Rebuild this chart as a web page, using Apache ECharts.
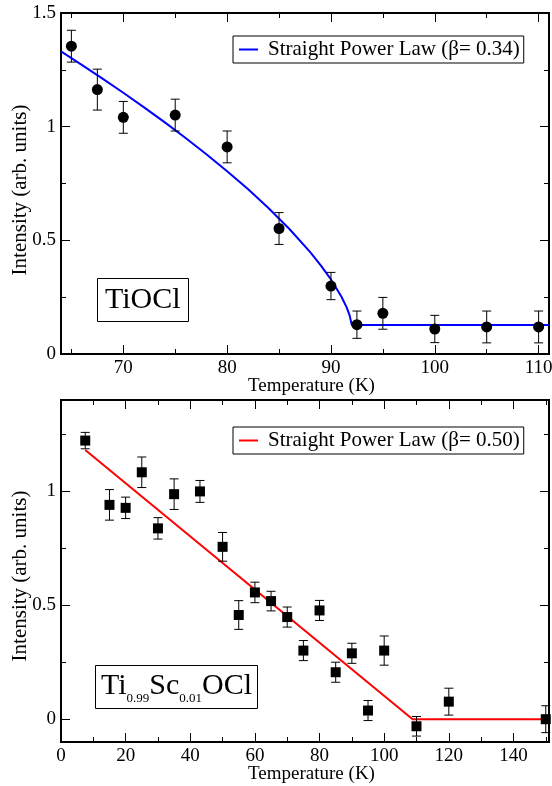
<!DOCTYPE html>
<html>
<head>
<meta charset="utf-8">
<script src="https://cdn.jsdelivr.net/npm/echarts@6/dist/echarts.min.js"></script>
<style>
html,body{margin:0;padding:0;background:#fff;}
#c{width:552px;height:786px;}
</style>
</head>
<body>
<div id="c"></div>
<script>
// ---------- Data: top panel (TiOCl) ----------
const topT   = [65, 67.5, 70, 75, 80, 85, 90, 92.5, 95, 100, 105, 110];
const topI   = [1.354, 1.163, 1.041, 1.051, 0.911, 0.552, 0.299, 0.129, 0.179, 0.110, 0.119, 0.119];
const topErr = [0.07, 0.09, 0.07, 0.07, 0.07, 0.07, 0.06, 0.06, 0.07, 0.06, 0.07, 0.07];
// fit curve
const topFitT = [64, 66, 68, 70, 72, 74, 76, 78, 80, 82, 84, 86, 88, 89, 90, 91, 91.5, 91.8, 92, 111];
const topFitI = [1.331, 1.272, 1.211, 1.149, 1.085, 1.019, 0.950, 0.879, 0.804, 0.726, 0.641, 0.550, 0.448, 0.391, 0.328, 0.253, 0.206, 0.170, 0.128, 0.128];
const topXMajor = [70, 80, 90, 100, 110];
const topXMinor = [65, 75, 85, 95, 105];
const topYMajor = [0, 0.5, 1, 1.5];
const topYMinor = [0.25, 0.75, 1.25];
const topLegend = 'Straight Power Law (β= 0.34)';

// ---------- Data: bottom panel (Ti0.99Sc0.01OCl) ----------
const botT   = [7.5, 15, 20, 25, 30, 35, 43, 50, 55, 60, 65, 70, 75, 80, 85, 90, 95, 100, 110, 120, 150];
const botI   = [1.222, 0.940, 0.927, 1.083, 0.837, 0.987, 0.999, 0.756, 0.457, 0.556, 0.518, 0.448, 0.301, 0.477, 0.206, 0.289, 0.038, 0.301, -0.031, 0.077, 0.0];
const botErr = [0.036, 0.067, 0.047, 0.067, 0.047, 0.067, 0.048, 0.063, 0.063, 0.045, 0.043, 0.044, 0.044, 0.044, 0.044, 0.044, 0.044, 0.064, 0.043, 0.059, 0.059];
const botFitT = [7.5, 108.8, 150];
const botFitI = [1.181, 0.0, 0.0];
const botXMajor = [0, 20, 40, 60, 80, 100, 120, 140];
const botXMinor = [10, 30, 50, 70, 90, 110, 130, 150];
const botYMajor = [0, 0.5, 1];
const botYMinor = [0.25, 0.75, 1.25];
const botLegend = 'Straight Power Law (β= 0.50)';

const xTitle = 'Temperature (K)';
const yTitle = 'Intensity (arb. units)';

// ---------- Chart ----------
const FONT = "'Liberation Serif', 'Times New Roman', serif";
const BLACK = '#000';

function tickAxis(gi, pos, min, max, values, len, withLabels, extra) {
  const a = {
    gridIndex: gi, type: 'value', position: pos, min: min, max: max,
    axisLine: { show: false, onZero: false }, splitLine: { show: false },
    axisTick: { show: true, inside: true, length: len, customValues: values,
                lineStyle: { color: BLACK, width: 1 } },
    axisLabel: { show: false }
  };
  if (withLabels) {
    a.axisLabel = { show: true, customValues: values, color: BLACK,
                    fontFamily: FONT, fontSize: 19, margin: 5,
                    formatter: v => String(v) };
  }
  return Object.assign(a, extra || {});
}

const xAxes = [], yAxes = [];
function buildAxes(gi, xmin, xmax, xMaj, xMin, ymin, ymax, yMaj, yMin, yShift) {
  const xi = xAxes.length, yi = yAxes.length;
  xAxes.push(tickAxis(gi, 'bottom', xmin, xmax, xMaj, 9, true, {
    name: xTitle, nameLocation: 'middle', nameGap: 23, nameMoveOverlap: false,
    nameTextStyle: { color: BLACK, fontFamily: FONT, fontSize: 19, padding: [0, 0, 0, 13] }
  }));
  xAxes.push(tickAxis(gi, 'bottom', xmin, xmax, xMin, 5, false));
  xAxes.push(tickAxis(gi, 'top', xmin, xmax, xMaj, 9, false));
  xAxes.push(tickAxis(gi, 'top', xmin, xmax, xMin, 5, false));
  yAxes.push(tickAxis(gi, 'left', ymin, ymax, yMaj, 9, true, {
    name: yTitle, nameLocation: 'middle', nameGap: 30, nameMoveOverlap: false,
    nameTextStyle: { color: BLACK, fontFamily: FONT, fontSize: 21, padding: [0, yShift, 0, 0] }
  }));
  yAxes.push(tickAxis(gi, 'left', ymin, ymax, yMin, 5, false));
  yAxes.push(tickAxis(gi, 'right', ymin, ymax, yMaj, 9, false));
  yAxes.push(tickAxis(gi, 'right', ymin, ymax, yMin, 5, false));
  return [xi, yi];
}

const [tx, ty] = buildAxes(0, 64, 111, topXMajor, topXMinor, 0, 1.5, topYMajor, topYMinor, 13);
const [bx, by] = buildAxes(1, 0, 151, botXMajor, botXMinor, -0.1, 1.4, botYMajor, botYMinor, 10);

function errData(T, I, E) {
  return T.map((t, i) => [t, I[i] - E[i], I[i] + E[i]]);
}
function errSeries(xi, yi, data) {
  return {
    type: 'custom', xAxisIndex: xi, yAxisIndex: yi, data: data, clip: false,
    encode: { x: 0, y: [1, 2] }, z: 3, silent: true,
    renderItem: function (params, api) {
      const x = api.value(0), lo = api.value(1), hi = api.value(2);
      const p1 = api.coord([x, hi]), p2 = api.coord([x, lo]);
      const w = 4.5, st = { stroke: BLACK, lineWidth: 1 };
      return { type: 'group', children: [
        { type: 'line', shape: { x1: p1[0], y1: p1[1], x2: p2[0], y2: p2[1] }, style: st },
        { type: 'line', shape: { x1: p1[0] - w, y1: p1[1], x2: p1[0] + w, y2: p1[1] }, style: st },
        { type: 'line', shape: { x1: p2[0] - w, y1: p2[1], x2: p2[0] + w, y2: p2[1] }, style: st }
      ]};
    }
  };
}

const legendBase = {
  orient: 'horizontal', icon: 'rect', itemWidth: 19, itemHeight: 2,
  borderColor: BLACK, borderWidth: 1, padding: [3, 4, 3, 6],
  textStyle: { color: BLACK, fontFamily: FONT, fontSize: 21, padding: [0, 0, 0, 5] },
  selectedMode: false
};

const option = {
  animation: false,
  backgroundColor: '#fff',
  textStyle: { fontFamily: FONT },
  grid: [
    { left: 61, top: 13, width: 488, height: 341, show: true, borderColor: BLACK, borderWidth: 2,
      backgroundColor: 'transparent', containLabel: false, outerBoundsMode: 'none' },
    { left: 61, top: 400, width: 488, height: 342, show: true, borderColor: BLACK, borderWidth: 2,
      backgroundColor: 'transparent', containLabel: false, outerBoundsMode: 'none' }
  ],
  xAxis: xAxes,
  yAxis: yAxes,
  legend: [
    Object.assign({}, legendBase, { left: 233, top: 36, data: [topLegend] }),
    Object.assign({}, legendBase, { left: 233, top: 427, data: [botLegend] })
  ],
  title: [
    { text: 'TiOCl', left: 97, top: 278, padding: [6, 8, 6, 8],
      borderColor: BLACK, borderWidth: 1,
      textStyle: { color: BLACK, fontFamily: FONT, fontSize: 30, fontWeight: 'normal', lineHeight: 32 } },
    { text: 'Ti{s|0.99}Sc{s|0.01}OCl', left: 95, top: 665, padding: [5, 6, 4, 6],
      borderColor: BLACK, borderWidth: 1,
      textStyle: { color: BLACK, fontFamily: FONT, fontSize: 30, fontWeight: 'normal', lineHeight: 32,
        rich: { s: { fontFamily: FONT, fontSize: 13, color: BLACK, verticalAlign: 'bottom', lineHeight: 13, padding: [0, 0, -3, 0] } } } }
  ],
  series: [
    { name: topLegend, type: 'line', xAxisIndex: tx, yAxisIndex: ty, showSymbol: false, symbol: 'none',
      data: topFitT.map((t, i) => [t, topFitI[i]]), lineStyle: { color: '#0000ff', width: 2 },
      itemStyle: { color: '#0000ff' }, z: 2, silent: true },
    errSeries(tx, ty, errData(topT, topI, topErr)),
    { type: 'scatter', xAxisIndex: tx, yAxisIndex: ty, symbol: 'circle', symbolSize: 11,
      data: topT.map((t, i) => [t, topI[i]]), itemStyle: { color: BLACK, opacity: 1 }, z: 4, clip: false, silent: true },

    { name: botLegend, type: 'line', xAxisIndex: bx, yAxisIndex: by, showSymbol: false, symbol: 'none',
      data: botFitT.map((t, i) => [t, botFitI[i]]), lineStyle: { color: '#ff0000', width: 2 },
      itemStyle: { color: '#ff0000' }, z: 2, silent: true },
    errSeries(bx, by, errData(botT, botI, botErr)),
    { type: 'scatter', xAxisIndex: bx, yAxisIndex: by, symbol: 'rect', symbolSize: 10,
      data: botT.map((t, i) => [t, botI[i]]), itemStyle: { color: BLACK, opacity: 1 }, z: 4, clip: false, silent: true }
  ]
};

const chart = echarts.init(document.getElementById('c'), null, { renderer: 'canvas' });
chart.setOption(option);
</script>
</body>
</html>
